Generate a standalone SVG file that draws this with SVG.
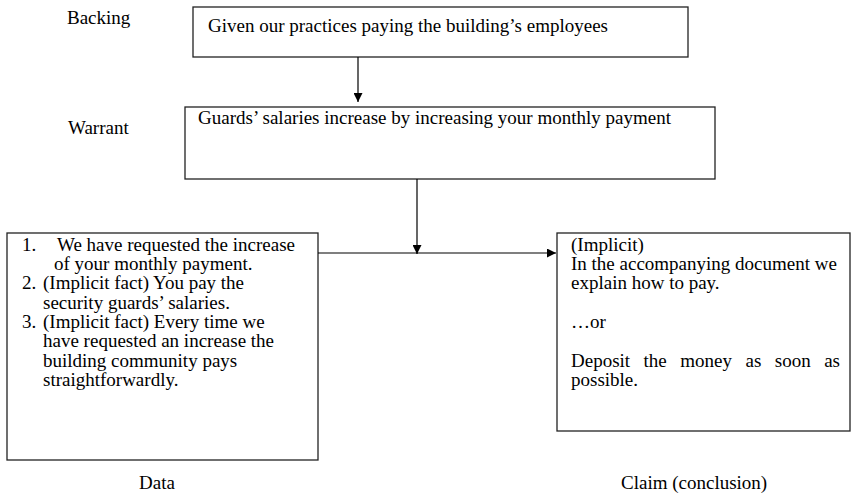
<svg xmlns="http://www.w3.org/2000/svg" width="852" height="495" viewBox="0 0 852 495">
  <style>
    text { font-family: "Liberation Serif", "Times New Roman", serif; font-size: 19px; fill: #000; }
    .box { fill: #fff; stroke: #222; stroke-width: 1.3; }
    .conn { fill: none; stroke: #000; stroke-width: 1.2; }
  </style>
  <defs>
    <marker id="arrow" viewBox="0 0 10 10" refX="10" refY="5" markerWidth="9" markerHeight="9" markerUnits="userSpaceOnUse" orient="auto">
      <path d="M0,0 L10,5 L0,10 Z" fill="#000"/>
    </marker>
  </defs>
  <rect width="852" height="495" fill="#fff"/>

  <g id="labels">
    <text x="67" y="24">Backing</text>
    <text x="68" y="134">Warrant</text>
    <text x="139" y="489">Data</text>
    <text x="621" y="489">Claim (conclusion)</text>
  </g>

  <g id="backing">
    <rect class="box" x="193" y="7" width="495" height="50"/>
    <text x="208" y="32">Given our practices paying the building’s employees</text>
  </g>

  <g id="warrant">
    <rect class="box" x="185" y="107" width="530" height="72"/>
    <text x="198" y="124">Guards’ salaries increase by increasing your monthly payment</text>
  </g>

  <g id="data">
    <rect class="box" x="7" y="233" width="311" height="227"/>
    <text x="22" y="251">1.</text>
    <text x="57" y="251">We have requested the increase</text>
    <text x="54" y="270">of your monthly payment.</text>
    <text x="22" y="289">2.</text>
    <text x="43" y="289">(Implicit fact) You pay the</text>
    <text x="43" y="309">security guards’ salaries.</text>
    <text x="22" y="328">3.</text>
    <text x="43" y="328">(Implicit fact) Every time we</text>
    <text x="43" y="347">have requested an increase the</text>
    <text x="43" y="367">building community pays</text>
    <text x="43" y="386">straightforwardly.</text>
  </g>

  <g id="claim">
    <rect class="box" x="557" y="233" width="293" height="198"/>
    <text x="571" y="251">(Implicit)</text>
    <text x="571" y="270">In the accompanying document we</text>
    <text x="571" y="289">explain how to pay.</text>
    <text x="571" y="328">…or</text>
    <text y="367"><tspan x="571">Deposit</tspan><tspan x="643.6">the</tspan><tspan x="680.3">money</tspan><tspan x="745.5">as</tspan><tspan x="774.8">soon</tspan><tspan x="824.2">as</tspan></text>
    <text x="571" y="386">possible.</text>
  </g>

  <g id="connectors">
    <line class="conn" x1="358" y1="57" x2="358" y2="102" marker-end="url(#arrow)"/>
    <line class="conn" x1="417" y1="179" x2="417" y2="254" marker-end="url(#arrow)"/>
    <line class="conn" x1="318" y1="253" x2="556" y2="253" marker-end="url(#arrow)"/>
  </g>
</svg>
